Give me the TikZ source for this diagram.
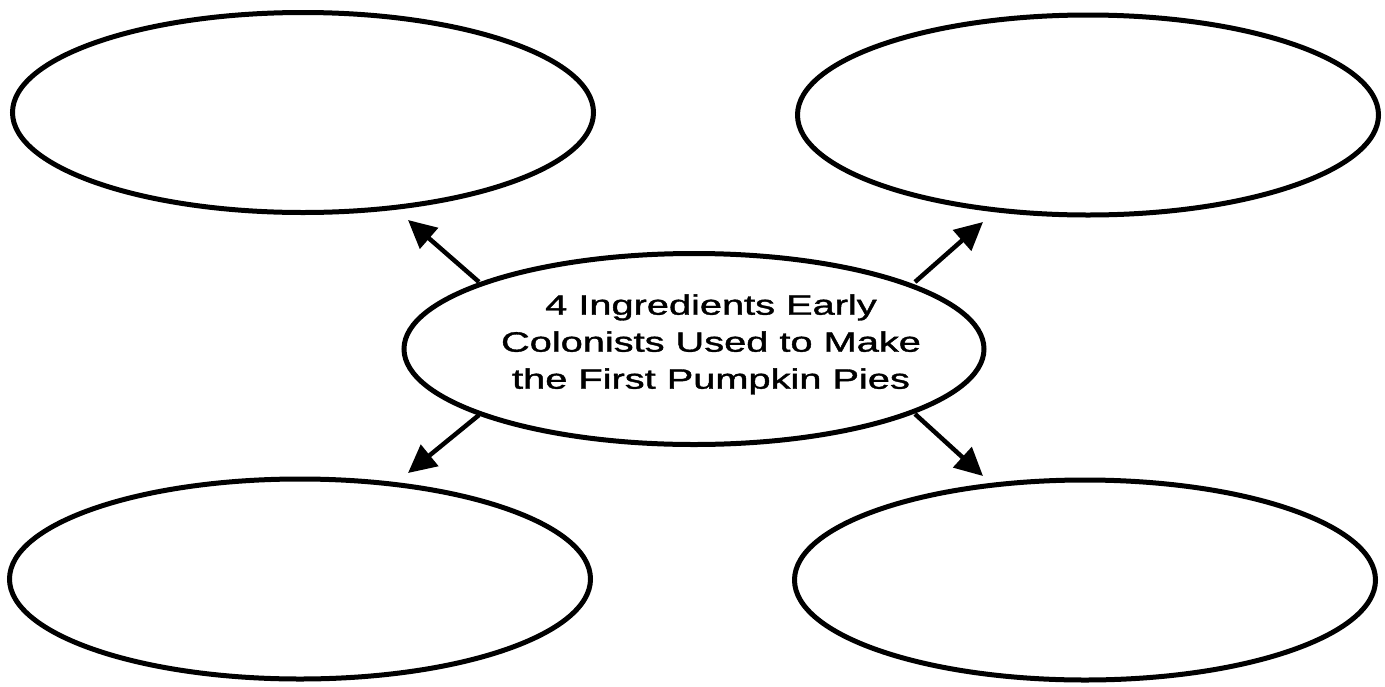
\documentclass[tikz,border=0pt]{standalone}
\usepackage{fontspec}
\setmainfont{Liberation Sans}
\newfontfamily\hubfont[FakeBold=1.2]{Liberation Sans}
\usetikzlibrary{shapes.geometric,arrows.meta}
\tikzset{
  oval/.style={ellipse, draw=black, line width=5pt, inner sep=0pt,
    minimum width=581pt, minimum height=200pt},
  hub/.style={ellipse, draw=black, fill=white, line width=5pt, inner sep=0pt,
    minimum width=580pt, minimum height=191pt},
  arr/.style={line width=4.5pt, -{Triangle[length=28pt,width=27pt]}}
}
\begin{document}
\begin{tikzpicture}[x=1pt,y=-1pt]
\useasboundingbox (0,0) rectangle (1385,686);
\node[oval] (tl) at (303,112.5) {};
\node[oval] (tr) at (1088,115) {};
\node[oval] (bl) at (300,579) {};
\node[oval] (br) at (1085,580) {};
\coordinate (tltail) at (479,282);
\coordinate (trtail) at (915,282);
\coordinate (bltail) at (479,415);
\coordinate (brtail) at (915,414);
\coordinate (tltip) at (408,220);
\coordinate (trtip) at (983,222);
\coordinate (bltip) at (408,473);
\coordinate (brtip) at (983,476);
\draw[arr] (tltail) -- (tltip);
\draw[arr] (trtail) -- (trtip);
\draw[arr] (bltail) -- (bltip);
\draw[arr] (brtail) -- (brtip);
\node[hub] (c) at (694,349) {\smash{\makebox[0pt]{\hspace*{34pt}\raisebox{-1.5pt}{\scalebox{1.42}[1]{\hubfont\fontsize{28}{37}\selectfont\begin{tabular}{@{}c@{}}4 Ingredients Early\\ Colonists Used to Make\\ the First Pumpkin Pies\end{tabular}}}}}};
\end{tikzpicture}
\end{document}
